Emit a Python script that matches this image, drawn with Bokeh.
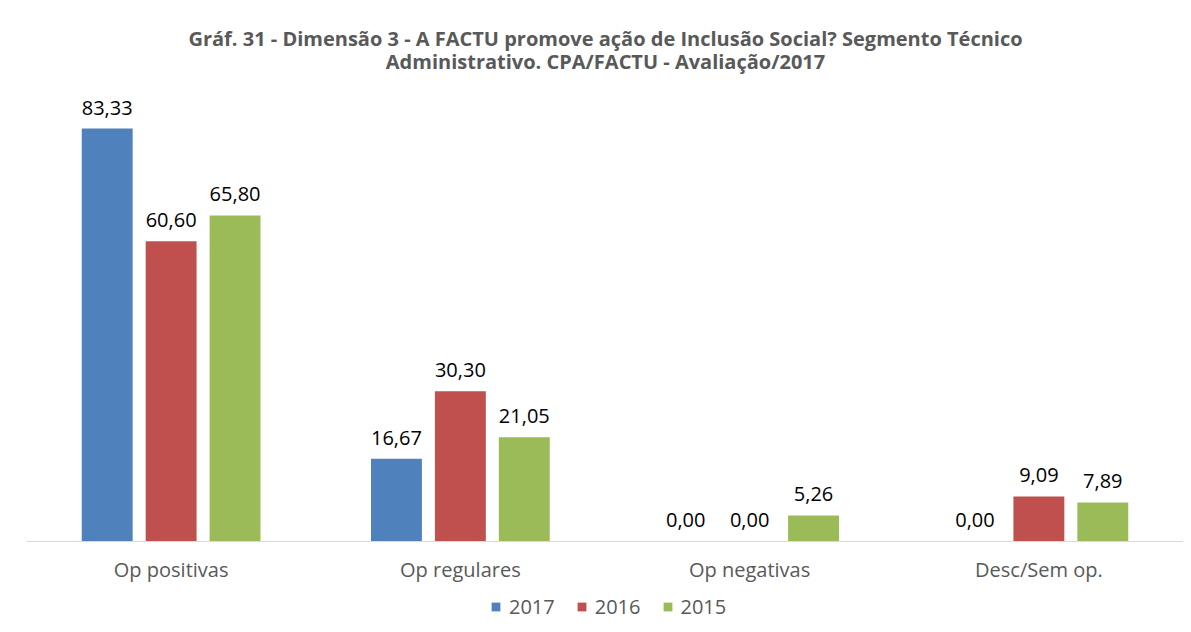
from bokeh.plotting import figure
from bokeh.models import FactorRange, Range1d, Label, ColumnDataSource
from bokeh.transform import dodge
from bokeh.core.properties import value
from bokeh.embed import file_html
from bokeh.resources import INLINE

categories = ["Op positivas", "Op regulares", "Op negativas", "Desc/Sem op."]
years = ["2017", "2016", "2015"]
v2017 = [83.33, 16.67, 0.00, 0.00]
v2016 = [60.60, 30.30, 0.00, 9.09]
v2015 = [65.80, 21.05, 5.26, 7.89]
colors = ["#4F81BD", "#C0504D", "#9BBB59"]
title_lines = ["Gráf. 31 - Dimensão 3 - A FACTU promove ação de Inclusão Social? Segmento Técnico",
               "Administrativo. CPA/FACTU - Avaliação/2017"]

FONT = "Open Sans"

def fmt(v):
    return f"{v:.2f}".replace(".", ",")

src = ColumnDataSource(dict(
    cat=categories,
    v2017=v2017, v2016=v2016, v2015=v2015,
    l2017=[fmt(v) for v in v2017],
    l2016=[fmt(v) for v in v2016],
    l2015=[fmt(v) for v in v2015],
))

p = figure(x_range=FactorRange(*categories, range_padding=0), y_range=Range1d(-16.75, 109.16),
           width=1183, height=624, output_backend="svg", toolbar_location=None,
           min_border_left=26, min_border_right=0, min_border_top=0, min_border_bottom=0)
p.outline_line_color = None
p.grid.visible = False
p.yaxis.visible = False
p.background_fill_color = "white"
p.border_fill_color = "white"

offsets = [-0.221, 0.0, 0.221]
for yr, col, off in zip(years, colors, offsets):
    p.vbar(x=dodge("cat", off, range=p.x_range), top="v" + yr, bottom=0, width=0.176, source=src,
           fill_color=col, line_color=None, legend_label=yr)
    p.text(x=dodge("cat", off, range=p.x_range), y="v" + yr, text="l" + yr, source=src,
           text_align="center", text_baseline="middle", y_offset=-21,
           text_font=value(FONT), text_font_size="20px", text_color="#000000")

ax = p.xaxis[0]
ax.fixed_location = 0
ax.axis_line_color = "#D9D9D9"
ax.axis_line_width = 1
ax.major_tick_line_color = None
ax.minor_tick_line_color = None
ax.major_tick_out = 0
ax.major_tick_in = 0
ax.major_label_text_font = FONT
ax.major_label_text_font_size = "20px"
ax.major_label_text_color = "#595959"
ax.major_label_standoff = 15

for line, yy in zip(title_lines, [586, 563]):
    p.add_layout(Label(x=579, y=yy, x_units="screen", y_units="screen", text=line,
                       text_align="center", text_baseline="middle",
                       text_font=FONT, text_font_size="20px", text_font_style="bold",
                       text_color="#595959"))

leg = p.legend[0]
leg.orientation = "horizontal"
leg.location = (464, 4)
leg.padding = 0
leg.margin = 0
leg.spacing = 21
leg.glyph_width = 11
leg.glyph_height = 11
leg.label_standoff = 8
leg.label_height = 20
leg.label_text_font = FONT
leg.label_text_font_size = "20px"
leg.label_text_color = "#595959"
leg.border_line_color = None
leg.background_fill_alpha = 0

open("out.html", "w").write(file_html(p, INLINE))
